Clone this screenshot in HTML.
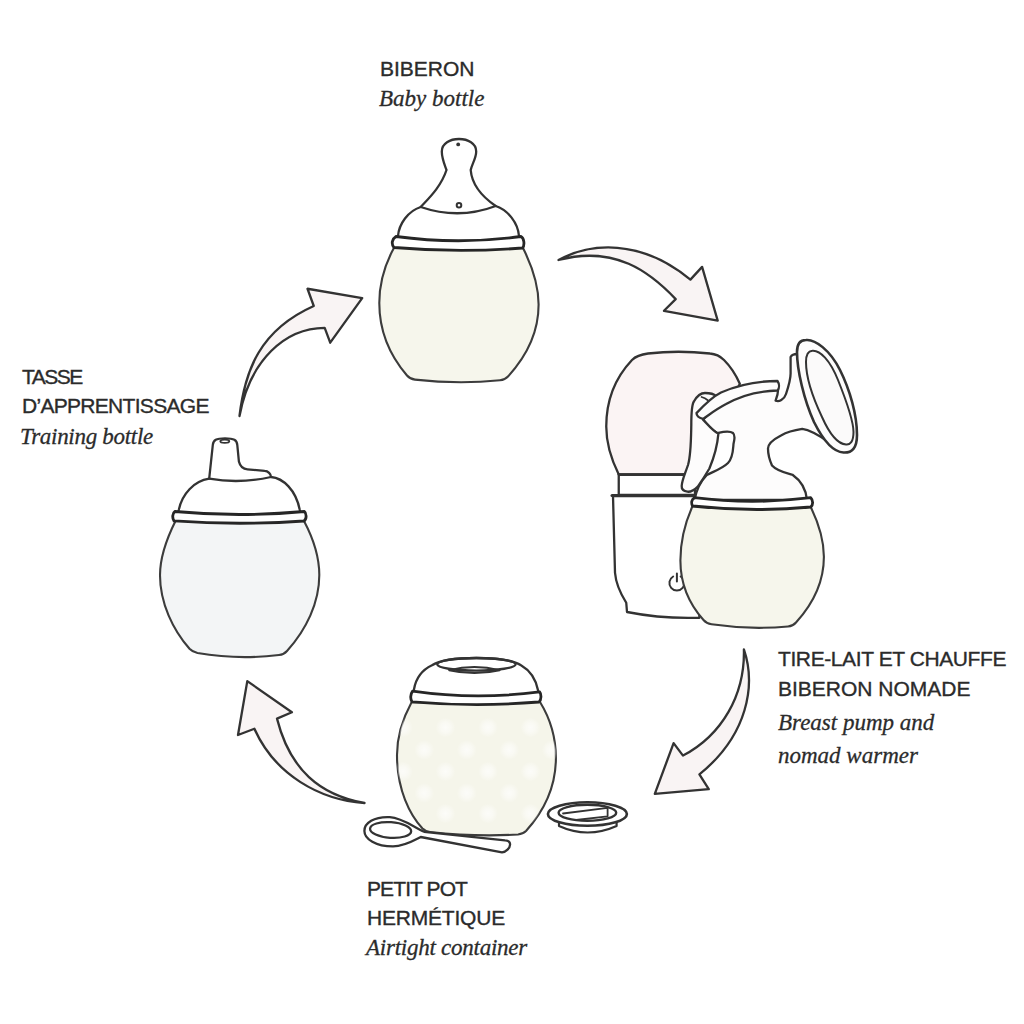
<!DOCTYPE html>
<html><head><meta charset="utf-8">
<style>
html,body{margin:0;padding:0;background:#fff;width:1024px;height:1024px;overflow:hidden;}
svg{position:absolute;left:0;top:0;}
.t{position:absolute;margin:0;white-space:nowrap;color:#2b2b2b;}
.s{font-family:"Liberation Sans",sans-serif;font-size:21px;line-height:29.5px;-webkit-text-stroke:0.35px #2b2b2b;}
.i{font-family:"Liberation Serif",serif;font-style:italic;font-size:23px;line-height:32px;-webkit-text-stroke:0.3px #2b2b2b;}
</style></head><body>
<svg width="1024" height="1024" viewBox="0 0 1024 1024">
<defs>
<radialGradient id="dot"><stop offset="0" stop-color="#fff" stop-opacity="0.7"/><stop offset="0.5" stop-color="#fff" stop-opacity="0.45"/><stop offset="1" stop-color="#fff" stop-opacity="0"/></radialGradient>
<clipPath id="potclip"><path d="M411.7,702.1 C402,720 397,740 397,755 C397,790 410,815 424.5,831 Q475,839 523.5,833.8 C545,810 555.9,785 555.9,757.9 C555.9,735 548,715 540,702 Z"/></clipPath>
</defs>
<g fill="none" stroke="#333" stroke-width="2.3" stroke-linejoin="round" stroke-linecap="round">

<!-- Arrows -->
<path fill="#f9f4f4" d="M558.5,260 C590,243 640,238 690.4,279.6 L702.1,266.9 L717.7,320.6 L664,310.8 L675.7,299.1 C650,272 615,245 558.5,260 Z"/>
<path fill="#f9f4f4" d="M239.5,416 C245,370 260,330 313.75,306 L307.5,288.75 L362.2,298.1 L330.2,342.7 L324.7,327.8 C285,328 250,360 239.5,416 Z"/>
<path fill="#f9f4f4" d="M743.9,649.4 C756,685 748,735 699.4,774.4 L708.75,789.2 L654.8,793.9 L673.6,743.1 L683,755.6 C722,735 745,695 743.9,649.4 Z"/>
<path fill="#f9f4f4" d="M364.5,803 C320,800 275,775 254.4,728.75 L238,735 L247.3,681.1 L291.9,712.3 L277,718.6 C290,770 320,795 364.5,803 Z"/>

<!-- Baby bottle -->
<path fill="#f6f6ec" stroke="#3c3c3c" stroke-width="2.1" d="M393.9,248 C383,268 379.3,288 379.3,303 C379.3,333 392,358 407,375.5 Q410,379 415,379.6 Q458,384.5 500,380.3 Q505,379.8 508,376.5 C525,358 538.6,333 538.6,304.6 C538.6,288 533,268 523,248 Z"/>
<path fill="#fff" d="M396,245 L398,236 C399,224 408,211 420.7,207 C428,199 441,187 446.5,170 C444,163 441.8,158 441.8,151.4 C441.8,143.5 450,139 459,139 C468,139 476.2,143.5 476.2,151.4 C476.2,158 472,164 470.7,170 C472,186 484,198 495.7,206 C508,210 518,223 519,236 L521,245 Z"/>
<path d="M420.7,207 Q459,220 495.7,206"/>
<circle cx="459" cy="205.3" r="2.3" stroke-width="2"/>
<circle cx="458.2" cy="144.4" r="1.9" fill="#333" stroke="none"/>
<path fill="#fff" stroke="#262626" stroke-width="2.8" d="M396,236.5 Q458,245 521,236.5 C524,238 525,245 522.5,248 Q458,253 394,247.5 C391,244 392,239 396,236.5 Z"/>

<!-- Training bottle -->
<path fill="#f3f5f6" stroke="#3c3c3c" stroke-width="2.1" d="M175.5,521 C166,540 160,560 160,575.25 C160,603 173,630 189.5,648.8 Q192.5,652 197.5,653 Q238,660 279,655 Q284,654.5 287,651 C306,630 319.3,603 319.3,575 C319.3,558 313,538 304,521 Z"/>
<path fill="#fff" d="M176,520 L178.75,510 C182,494 194,481 209.2,478.7 L212.8,445 C213.3,440 216,438.3 225,438.3 C234,438.3 237,440 237.3,445 L238.9,461.5 C240,466 243,469 247.5,469.3 L264.7,470.9 C268,471 271,474 271,477 C283,478 296,490 299.8,510 L303,520 Z"/>
<path d="M209.2,478.7 Q240,484 271,477"/>
<ellipse cx="224.8" cy="441.3" rx="4.5" ry="1.6" stroke-width="1.8"/>
<path fill="#fff" stroke="#262626" stroke-width="2.8" d="M174.9,511.5 Q239,517.5 304.3,511.5 C306.5,513 307,519 304,521 Q239,525.5 174,520.9 C172,518 172.5,513 174.9,511.5 Z"/>

<!-- Warmer -->
<path fill="#fff" d="M613,496 L615,572.75 C616,585 622,596 626.25,602.75 L627,612 Q662,619 699.4,617.75 L699,496 Z"/>
<path fill="#fff" d="M618.75,474.5 L618.75,495 L695,495 L695,474.5 Z"/>
<path d="M612,495.5 L700,495.5" stroke-width="3"/>
<path fill="#fbf4f4" d="M618.75,474.5 C609,455 606.25,440 606.25,426.6 C606.25,400 615,378 632,360 C636,356 640,354.5 648,353.5 Q678,350 710,353.5 C716,354 720,356 724,360 C731,367 736,375 739.8,383.75 L700,474.5 Z"/>
<path d="M618.75,474.5 L700,474.5"/>
<path d="M680.65,576.5 A7.5,7.5 0 1 1 673.15,576.5 M676.9,573.5 L676.9,581.5" stroke-width="2"/>

<!-- Pump bottle -->
<path fill="#f6f6ec" stroke="#3c3c3c" stroke-width="2.1" d="M692.6,506 C684,525 680.4,545 680.4,560.5 C680.4,587 691,606 703.5,620 Q706.5,623.5 711.5,624.3 Q750,630 788,626.5 Q793,626 796,622.5 C812,605 823.9,582 823.9,556.75 C823.9,540 818,522 810.75,507 Z"/>
<path fill="#fdfcfc" d="M694.5,500 C696,492 700,482 706.8,475 C712,472 722,469 728,463 C733,458 733,450 733.5,444 C734,440 736,436 733,433 C729,430 722,432 717.1,433.1 C712,430 707,424 703,419.6 C712,410 735,392 777.5,386 C779,390 777,397 775.6,400.7 C779,402 784,400 786,394 C789,385 790.6,378 790.6,373.5 L790.6,357 C792,354.5 794,354 797,354 L828.5,442 C820,436 810,430 802.25,428.9 C795,430 787,432 781,435.4 C774,439 768,443 768,448.5 C768,455 770,461 772,465.4 C777,471 786,473 792.5,474.75 C800,480 806,489 807,500 Z"/>
<path fill="#fdfcfc" d="M718.4,433.7 C717,450 713,460 709.4,468.5 C705,476 701,482 697.8,486.6 C694,490.5 691,492 687.5,491.7 C683.5,491 681.5,489 681.7,486 C682,480 685,474 688,465 C691,455 691,440 691.3,425 C691.3,412 691.5,405 693.9,401.5 C697,396 700.5,393 705,393 C710,393 713.5,393.5 716,396 L703,419.6 C709,426 713,431 718.4,433.7 Z"/>
<path d="M701.6,397 Q705,398 707.8,400.2" stroke-width="1.8"/>
<path fill="#fdfcfc" d="M696.5,413.1 C705,404 712,397 721,392.5 C738,385 758,381 777.5,381 C779.5,384 779.5,388 777.5,390.5 C758,391 740,396 726.1,404.1 C715,410 709,415 703,418.9 C699,418 696.5,416 696.5,413.1 Z"/>
<path fill="#fdfcfc" stroke-width="2.6" d="M806,340 C815,339 830,350 840,370 C850,390 857,415 857,435 C857,448 852,453 843.5,452.5 C833,452 823,440 814,422 C804,400 797,370 797,352 C797,344 800,340 806,340 Z"/>
<path fill="#fbfafa" stroke-width="2" d="M812.25,350.75 C820,350 830,360 838,380 C846,400 853.5,420 853.5,432 C853.5,442 850,445 846,444.5 C838,444 830,435 822,417 C813,398 806,378 806,362 C806,355 808,351 812.25,350.75 Z"/>
<path fill="#fff" stroke="#262626" stroke-width="2.8" d="M694.5,497.7 Q752,505 810.75,497.7 C813,500 813.5,505 810.75,507 Q752,512.5 692.6,506 C691,503 691.5,499.5 694.5,497.7 Z"/>

<!-- Pot -->
<path fill="#f5f5ea" stroke="#3c3c3c" stroke-width="2.1" d="M411.7,702.1 C402,720 397,740 397,755 C397,790 410,815 422.5,828.5 Q425.5,831.5 430,832 Q475,837 518,834.5 Q523,834 526,831 C545,810 555.9,785 555.9,757.9 C555.9,735 548,715 540,702 Z"/>
<g clip-path="url(#potclip)" stroke="none">
<circle cx="403" cy="727.5" r="10" fill="url(#dot)"/>
<circle cx="445.5" cy="727.5" r="10" fill="url(#dot)"/>
<circle cx="488" cy="727.5" r="10" fill="url(#dot)"/>
<circle cx="530.5" cy="727.5" r="10" fill="url(#dot)"/>
<circle cx="424.25" cy="750" r="10" fill="url(#dot)"/>
<circle cx="466.75" cy="750" r="10" fill="url(#dot)"/>
<circle cx="509.25" cy="750" r="10" fill="url(#dot)"/>
<circle cx="551.75" cy="750" r="10" fill="url(#dot)"/>
<circle cx="403" cy="771.5" r="10" fill="url(#dot)"/>
<circle cx="445.5" cy="771.5" r="10" fill="url(#dot)"/>
<circle cx="488" cy="771.5" r="10" fill="url(#dot)"/>
<circle cx="530.5" cy="771.5" r="10" fill="url(#dot)"/>
<circle cx="424.25" cy="793" r="10" fill="url(#dot)"/>
<circle cx="466.75" cy="793" r="10" fill="url(#dot)"/>
<circle cx="509.25" cy="793" r="10" fill="url(#dot)"/>
<circle cx="445.5" cy="813.5" r="10" fill="url(#dot)"/>
<circle cx="488" cy="813.5" r="10" fill="url(#dot)"/>
<circle cx="530.5" cy="813.5" r="10" fill="url(#dot)"/>
</g>
<path fill="#fff" d="M413,700 L414,689.2 C416,678 422,670 432,665.3 C440,660 458,658 476.4,658 C495,658 513,660 521,665.3 C531,671 536,680 538.1,690.5 L539,700 Z"/>
<ellipse cx="476.4" cy="664.3" rx="39.2" ry="6.3"/>
<path d="M449.2,670.2 Q474.4,664 499.6,670.2 Q474.4,676 449.2,670.2 Z" stroke-width="2"/>
<path fill="#fff" stroke="#262626" stroke-width="2.8" d="M412.6,691.2 Q476,700.4 539.5,691.8 C541.5,694 541.5,700 539,702 Q476,707.2 412,701.8 C410,699 410.5,694 412.6,691.2 Z"/>

<!-- Spoon -->
<path fill="#fff" d="M424.2,831.8 C412,826 402,818 389.8,817.2 C374,816.5 364.4,823 364.4,830.9 C364.4,839 376,846.4 393,846.4 C404,846.4 413,841 420.75,837 L502,852.4 C506,852 510,848 510.1,844.5 C510,842 508,840.4 505,840.4 Z"/>
<ellipse cx="390.6" cy="830" rx="20.6" ry="7.8" transform="rotate(4 390.6 830)"/>

<!-- small lid -->
<path fill="#fff" d="M559,821 L559,826 Q587.5,839 616.6,826 L616.6,821 Z" stroke-width="2.2"/>
<ellipse cx="587.4" cy="814" rx="39.5" ry="11.8" fill="#fff" stroke-width="2.6"/>
<ellipse cx="587.4" cy="812.7" rx="28.8" ry="8" stroke-width="2.4"/>
<path d="M563,813.5 L607.6,807.8 M576,820 L607.6,816.3 M607.6,807.8 L607.6,816.3" stroke-width="1.8"/>
</g>
</svg>
<div class="t s" style="left:380px;top:54px;">BIBERON</div>
<div class="t i" style="left:379px;top:83px;">Baby bottle</div>
<div class="t s" style="left:22px;top:362px;letter-spacing:-1.5px;">TASSE</div>
<div class="t s" style="left:22px;top:391px;letter-spacing:-0.7px;">D’APPRENTISSAGE</div>
<div class="t i" style="left:20px;top:421px;letter-spacing:-0.3px;">Training bottle</div>
<div class="t s" style="left:778px;top:644px;letter-spacing:-0.4px;">TIRE-LAIT ET CHAUFFE</div>
<div class="t s" style="left:778px;top:674px;">BIBERON NOMADE</div>
<div class="t i" style="left:778px;top:707px;">Breast pump and</div>
<div class="t i" style="left:778px;top:740px;">nomad warmer</div>
<div class="t s" style="left:367px;top:874px;letter-spacing:-0.9px;">PETIT POT</div>
<div class="t s" style="left:367px;top:903px;letter-spacing:-0.2px;">HERMÉTIQUE</div>
<div class="t i" style="left:366px;top:932px;letter-spacing:-0.25px;">Airtight container</div>
</body></html>
